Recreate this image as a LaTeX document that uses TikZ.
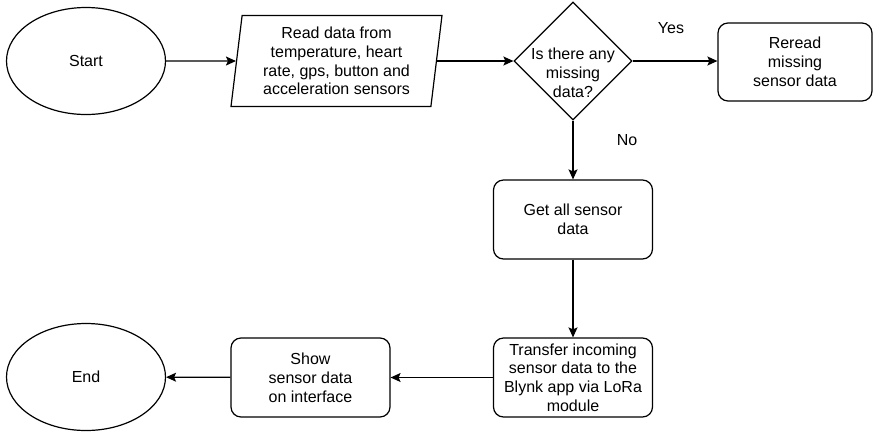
\documentclass[tikz,border=0pt]{standalone}
\usepackage{fontspec}
\setmainfont{Liberation Sans}
\usetikzlibrary{arrows.meta, shapes.geometric}

\begin{document}
\begin{tikzpicture}[x=1pt, y=-1pt, >={Stealth[length=10pt, width=9pt, inset=2pt]}, line width=1.2pt,
  every node/.style={font=\fontsize{16}{18.8}\selectfont, align=center},
  terminal/.style={draw, ellipse, minimum width=159pt, minimum height=107pt},
  process/.style={draw, rounded corners=10pt, minimum width=159pt, minimum height=79pt, inner sep=1pt},
  io/.style={draw, trapezium, trapezium left angle=81, trapezium right angle=99,
    trapezium stretches body, minimum width=211pt, minimum height=91pt, inner sep=1pt},
  decision/.style={draw, diamond, minimum width=118pt, minimum height=118pt, inner sep=0pt},
  lbl/.style={inner sep=1pt}]

\useasboundingbox (0,0) rectangle (873,432);

% Top row
\node[terminal] (start) at (86,61) {Start};
\node[io] (read) at (336.5,61) {Read data from\\temperature, heart\\rate, gps, button and\\acceleration sensors};
\node[decision] (check) at (573,61) {};
\node (checktext) at (573,73) {Is there any\\missing\\data?};
\node[process, minimum width=154pt, minimum height=78pt] (reread) at (795,62) {Reread\\missing\\sensor data};

% Middle
\node[process] (getall) at (573,219.5) {Get all sensor\\data};

% Bottom row
\node[process] (transfer) at (573,377.5) {Transfer incoming\\sensor data to the\\Blynk app via LoRa\\module};
\node[process] (show) at (310.5,377.5) {Show\\sensor data\\on interface};
\node[terminal] (end) at (86,377) {End};

% Connectors
\draw[->] (start) -- (read);
\draw[->] (read.east |- check.west) -- (check.west);
\draw[->] (check.east) -- node[lbl, xshift=-4pt, yshift=33pt] {Yes} (reread.west |- check.east);
\draw[->] (check.south) -- node[lbl, xshift=54pt, yshift=10pt] {No} (getall.north);
\draw[->] (getall) -- (transfer);
\draw[->] (transfer) -- (show);
\draw[->] (show) -- (end);

\end{tikzpicture}
\end{document}
